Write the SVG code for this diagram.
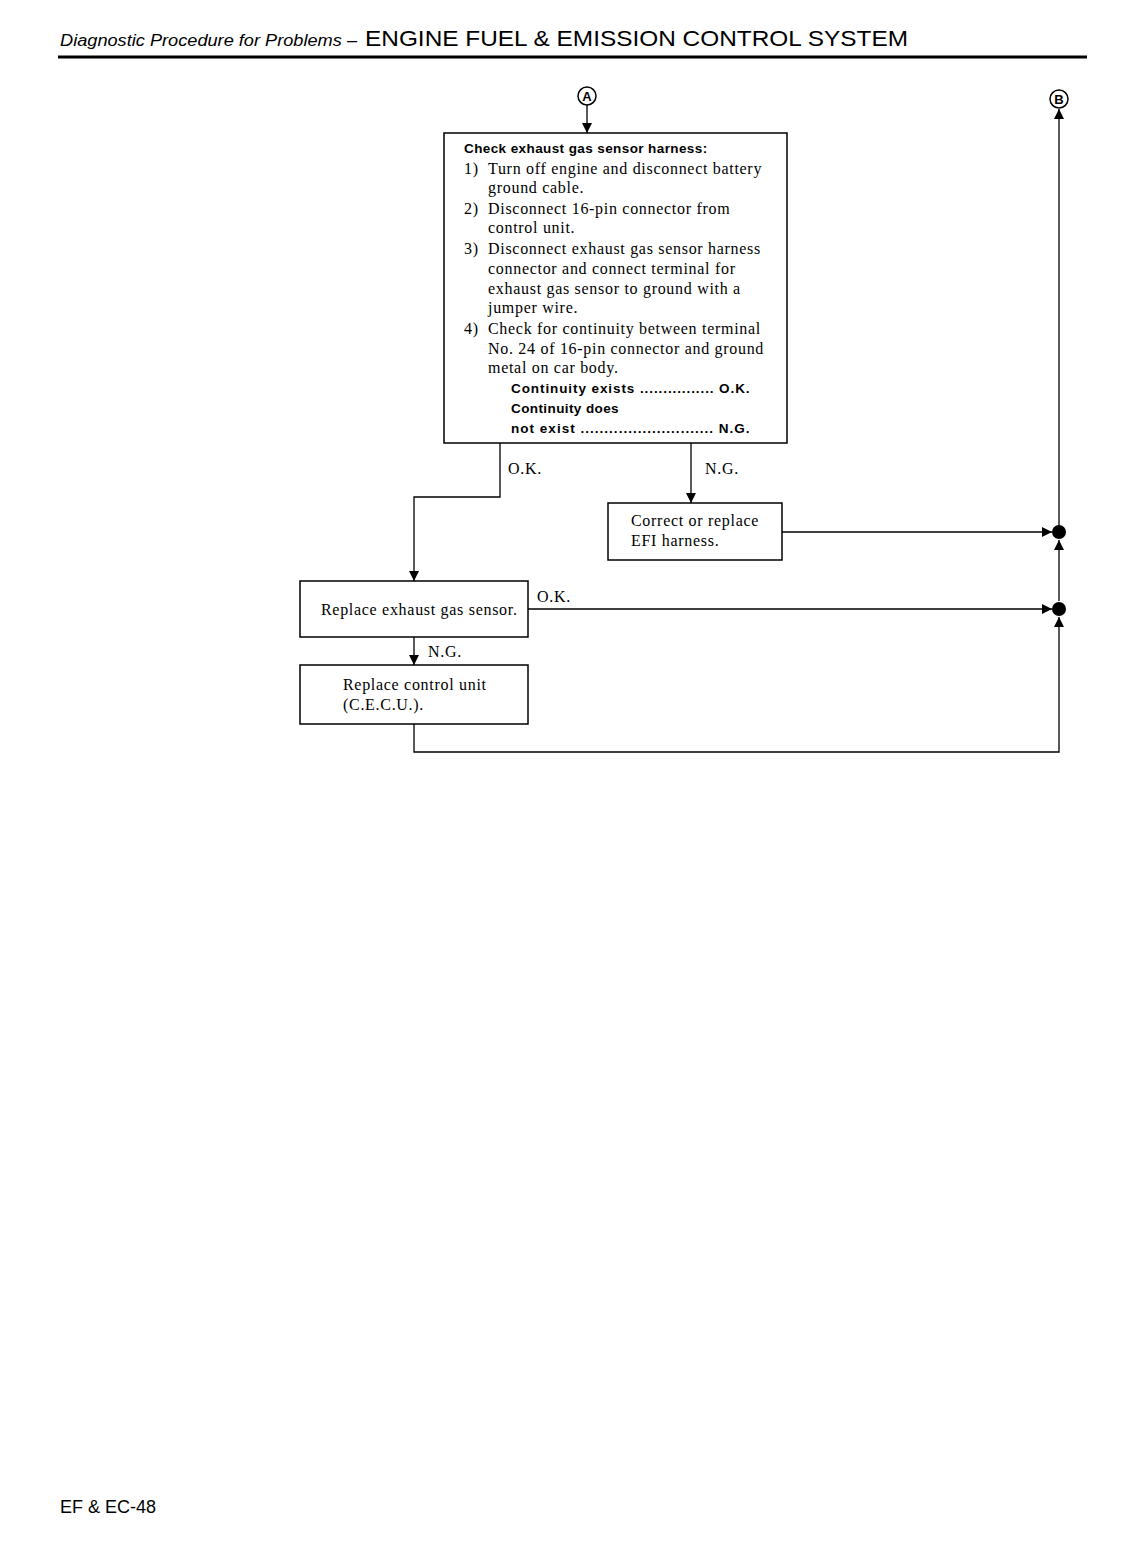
<svg xmlns="http://www.w3.org/2000/svg" width="1147" height="1553" viewBox="0 0 1147 1553">
<defs>
<style>
.s{font-family:"Liberation Serif","Times New Roman",serif;font-size:16px;letter-spacing:0.7px;fill:#000}
.b{font-family:"Liberation Sans",Arial,sans-serif;font-size:13.5px;letter-spacing:0.4px;font-weight:bold;fill:#000}
.h{font-family:"Liberation Sans",Arial,sans-serif;fill:#000}
.box{fill:#fff;stroke:#000;stroke-width:1.5}
.ln{fill:none;stroke:#000;stroke-width:1.3}
</style>
<marker id="ar" viewBox="0 0 10 10" refX="10" refY="5" markerWidth="10" markerHeight="10" markerUnits="userSpaceOnUse" orient="auto"><path d="M0,0 L10,5 L0,10 Z" fill="#000"/></marker>
</defs>
<rect width="1147" height="1553" fill="#fff"/>
<g id="header">
<text class="h" x="60" y="46" font-size="16" font-style="italic" textLength="297" lengthAdjust="spacingAndGlyphs">Diagnostic Procedure for Problems –</text>
<text class="h" x="365" y="46" font-size="22" textLength="543" lengthAdjust="spacingAndGlyphs">ENGINE FUEL &amp; EMISSION CONTROL SYSTEM</text>
<line x1="58" y1="57" x2="1087" y2="57" stroke="#000" stroke-width="3"/>
</g>
<g id="connA">
<circle cx="587" cy="96" r="9" fill="#fff" stroke="#000" stroke-width="1.5"/>
<text class="h" x="587" y="101" font-size="13" font-weight="bold" text-anchor="middle">A</text>
</g>
<g id="connB">
<circle cx="1059" cy="99" r="9" fill="#fff" stroke="#000" stroke-width="1.5"/>
<text class="h" x="1059" y="104" font-size="13" font-weight="bold" text-anchor="middle">B</text>
</g>
<g id="check">
<rect class="box" x="444" y="133" width="343" height="310"/>
<text class="b" x="464" y="153">Check exhaust gas sensor harness:</text>
<text class="s" x="464" y="174">1)</text><text class="s" x="488" y="174">Turn off engine and disconnect battery</text>
<text class="s" x="488" y="193">ground cable.</text>
<text class="s" x="464" y="214">2)</text><text class="s" x="488" y="214">Disconnect 16-pin connector from</text>
<text class="s" x="488" y="233">control unit.</text>
<text class="s" x="464" y="254">3)</text><text class="s" x="488" y="254">Disconnect exhaust gas sensor harness</text>
<text class="s" x="488" y="274">connector and connect terminal for</text>
<text class="s" x="488" y="294">exhaust gas sensor to ground with a</text>
<text class="s" x="488" y="313">jumper wire.</text>
<text class="s" x="464" y="334">4)</text><text class="s" x="488" y="334">Check for continuity between terminal</text>
<text class="s" x="488" y="354">No. 24 of 16-pin connector and ground</text>
<text class="s" x="488" y="373">metal on car body.</text>
<text class="b" x="511" y="393" textLength="239" lengthAdjust="spacing">Continuity exists ................ O.K.</text>
<text class="b" x="511" y="413">Continuity does</text>
<text class="b" x="511" y="433" textLength="239" lengthAdjust="spacing">not exist ............................ N.G.</text>
</g>
<g id="correct">
<rect class="box" x="608" y="503" width="174" height="57"/>
<text class="s" x="631" y="526">Correct or replace</text>
<text class="s" x="631" y="546">EFI harness.</text>
</g>
<g id="replaceSensor">
<rect class="box" x="300" y="581" width="228" height="56"/>
<text class="s" x="321" y="615">Replace exhaust gas sensor.</text>
</g>
<g id="replaceUnit">
<rect class="box" x="300" y="665" width="228" height="59"/>
<text class="s" x="343" y="690">Replace control unit</text>
<text class="s" x="343" y="710">(C.E.C.U.).</text>
</g>
<g id="connectors">
<line class="ln" x1="587" y1="105" x2="587" y2="133" marker-end="url(#ar)"/>
<polyline class="ln" points="500,443 500,497 414,497 414,581" marker-end="url(#ar)"/>
<text class="s" x="508" y="474">O.K.</text>
<line class="ln" x1="691" y1="443" x2="691" y2="503" marker-end="url(#ar)"/>
<text class="s" x="705" y="474">N.G.</text>
<line class="ln" x1="782" y1="532" x2="1052" y2="532" marker-end="url(#ar)"/>
<line class="ln" x1="528" y1="609" x2="1052" y2="609" marker-end="url(#ar)"/>
<text class="s" x="537" y="602">O.K.</text>
<line class="ln" x1="414" y1="637" x2="414" y2="665" marker-end="url(#ar)"/>
<text class="s" x="428" y="657">N.G.</text>
<polyline class="ln" points="414,724 414,752 1059,752 1059,617" marker-end="url(#ar)"/>
<line class="ln" x1="1059" y1="601" x2="1059" y2="540" marker-end="url(#ar)"/>
<line class="ln" x1="1059" y1="525" x2="1059" y2="109" marker-end="url(#ar)"/>
<circle cx="1059" cy="532" r="7" fill="#000"/>
<circle cx="1059" cy="609" r="7" fill="#000"/>
</g>
<g id="footer">
<text class="h" x="60" y="1513" font-size="18">EF &amp; EC-48</text>
</g>
</svg>
